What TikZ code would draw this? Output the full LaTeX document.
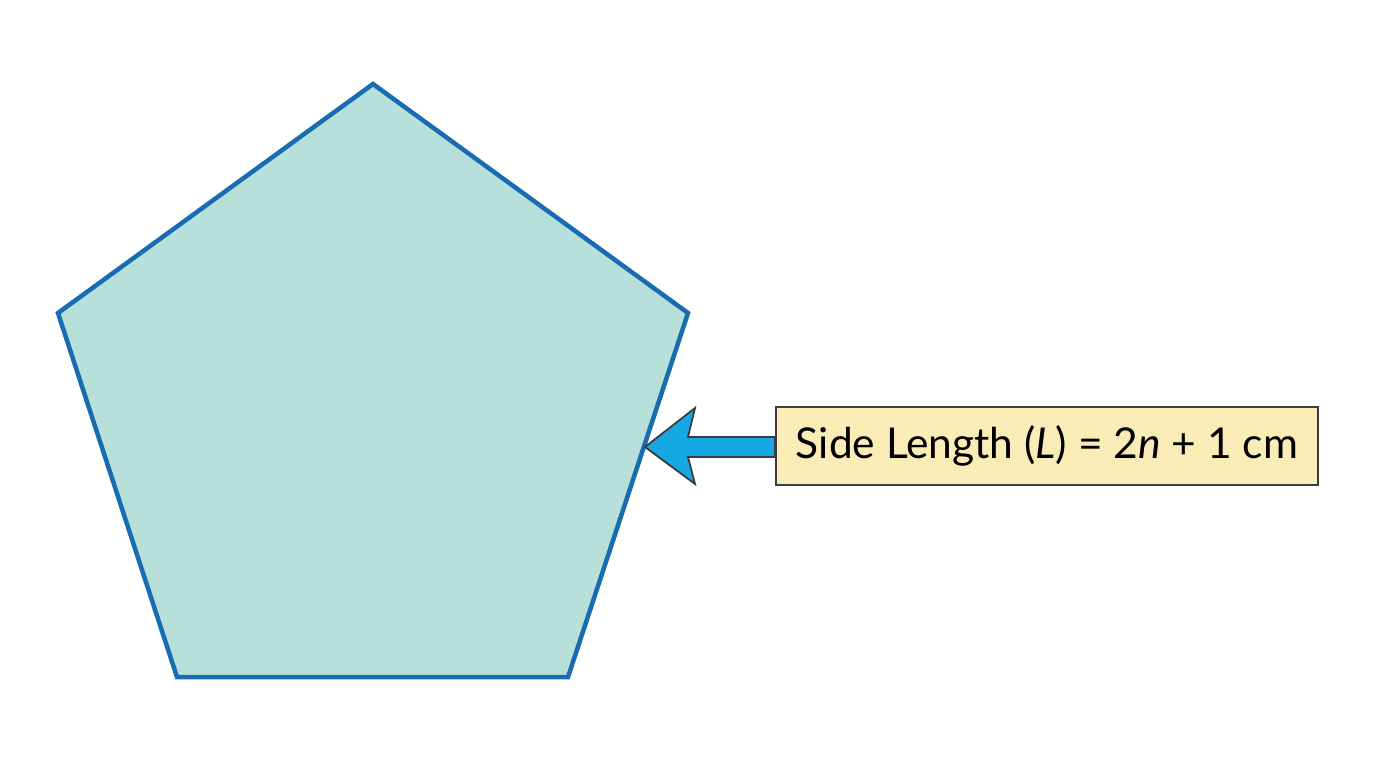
\documentclass[tikz,border=0pt]{standalone}
\usepackage{fontspec}
\setmainfont{Lato}
\usepackage{tikz}
\usetikzlibrary{positioning}
\definecolor{pentfill}{RGB}{184,224,219}
\definecolor{pentline}{RGB}{24,108,178}
\definecolor{arrowfill}{RGB}{22,168,228}
\definecolor{boxfill}{RGB}{250,236,183}
\definecolor{edgegray}{RGB}{60,60,60}

\begin{document}
\begin{tikzpicture}[x=1pt,y=-1pt,
		pent/.style={fill=pentfill,draw=pentline,line width=4.5pt,line join=miter},
		lbl/.style={fill=boxfill,draw=edgegray,line width=2pt,minimum width=542pt,minimum height=78pt,inner sep=0pt,font=\fontsize{42.5}{48}\selectfont},
		pointer/.style={fill=arrowfill,draw=edgegray,line width=1.8pt,line join=miter}]
	\useasboundingbox (0,0) rectangle (1376,768);
	%% define pentagon
	\coordinate (top) at (373,84);
	\coordinate (ur) at (688,313);
	\coordinate (lr) at (568,677);
	\coordinate (ll) at (177,677);
	\coordinate (ul) at (58,313);
	\draw[pent] (top) -- (ur) -- (lr) -- (ll) -- (ul) -- cycle;
	%% define label
	\node (side) at (1047,446) [lbl] {Side Length (\textit{L}) = 2\textit{n} + 1 cm};
	\coordinate (tip) at (645,447);
	%% define arrow
	\draw[pointer] (tip) -- (695,408) -- (688,437) -- (side.west |- 0,437) -- (side.west |- 0,457) -- (688,457) -- (695,484) -- cycle;
\end{tikzpicture}
\end{document}
